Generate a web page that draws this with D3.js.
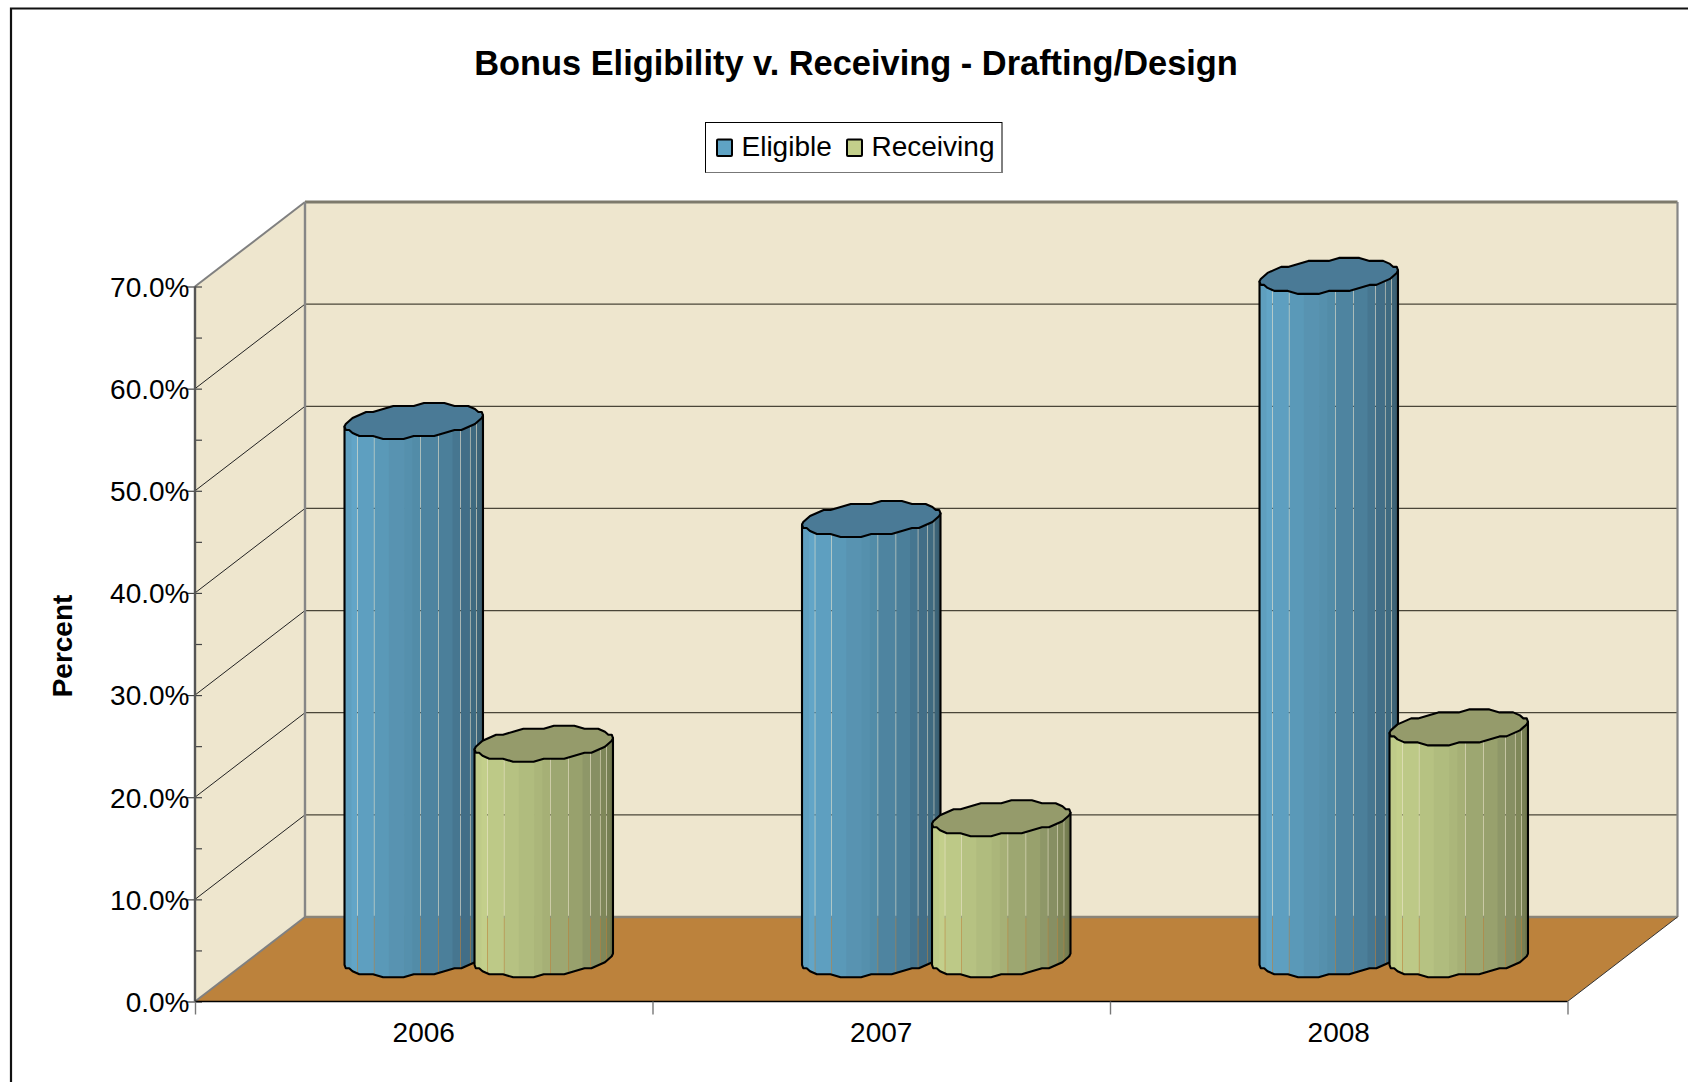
<!DOCTYPE html>
<html>
<head>
<meta charset="utf-8">
<script src="https://cdn.jsdelivr.net/npm/d3@7/dist/d3.min.js"></script>
<style>
  html, body { margin: 0; padding: 0; background: #fff; }
  svg { display: block; }
  text { font-family: "Liberation Sans", Arial, sans-serif; fill: #000; }
  .domain { display: none; }
</style>
</head>
<body>
<svg id="chart" width="1688" height="1082"></svg>
<script>
// Chart content
const chartTitle = "Bonus Eligibility v. Receiving - Drafting/Design";
const yAxisTitle = "Percent";
const years = ["2006", "2007", "2008"];
const seriesNames = ["Eligible", "Receiving"];
const eligible = [52.7, 43.1, 66.9];
const receiving = [21.1, 13.8, 22.7];
const yMajorTicks = [0, 10, 20, 30, 40, 50, 60, 70];
const yMinorTicks = [5, 15, 25, 35, 45, 55, 65];

// Shading of the cylinder sides, left to right
const blueBands = ["#5f9fbf","#62a5c7","#5e9fc0","#5a99b8","#5893b1","#5590ad","#528ca8","#4e84a0","#4b7f9a","#467690","#426e87","#3f6a80","#3c6377","#395c6e"];
const greenBands = ["#bfcb89","#c3cf8b","#bdc987","#b6c282","#b0bc7e","#abb67a","#a6b076","#9da771","#98a16d","#8e9768","#878f63","#7f8759","#777f53","#6f764d"];
const bandStops = [0, .05, .096, .216, .32, .43, .49, .55, .68, .78, .84, .91, .955, .98, 1];
const seamStops = [.096, .216, .55, .68, .84, .91, .955];
const blueLid = "#4a7a96";
const greenLid = "#959b6b";

const svg = d3.select("#chart");

// Oblique projection of the plot box
const depthX = 110, depthY = -84.5;
const x0 = d3.scaleBand().domain(years).range([195, 1567.5]);
const x1 = d3.scaleBand().domain(seriesNames).range([x0.bandwidth() / 2 - 130, x0.bandwidth() / 2 + 130]);
const y = d3.scaleLinear().domain([0, 70]).range([1001.5, 286.5]);
const project = (px, v, depth) => [px + depthX * depth, y(v) + depthY * depth];
const [xMin, xMax] = x0.range();
const poly = pts => "M" + pts.map(p => p.join(",")).join("L") + "Z";

// Outer frame
svg.append("path").attr("d", "M11,1082V8.5H1688").attr("fill", "none").attr("stroke", "#111").attr("stroke-width", 2.2);

// Title
svg.append("text").attr("x", 856).attr("y", 75).attr("text-anchor", "middle")
  .attr("font-size", 34.4).attr("font-weight", "bold").text(chartTitle);

// Legend
const legend = svg.append("g");
legend.append("rect").attr("x", 705.5).attr("y", 122.5).attr("width", 296.5).attr("height", 50)
  .attr("fill", "#fff").attr("stroke", "#000").attr("stroke-width", 1);
legend.append("line").attr("x1", 705.5).attr("x2", 1002).attr("y1", 172.5).attr("y2", 172.5).attr("stroke", "#777").attr("stroke-width", 1);
const legendX = d3.scaleOrdinal().domain(seriesNames).range([717, 847]);
const legendFill = d3.scaleOrdinal().domain(seriesNames).range(["#5fa3c4", "#c3cf8b"]);
seriesNames.forEach(name => {
  legend.append("rect").attr("x", legendX(name)).attr("y", 139.5).attr("width", 15).attr("height", 16.5)
    .attr("fill", legendFill(name)).attr("stroke", "#000").attr("stroke-width", 2).attr("rx", 1);
  legend.append("text").attr("x", legendX(name) + 24.5).attr("y", 156).attr("font-size", 28).text(name);
});

// Walls and floor
const back = (px, v) => project(px, v, 1);
const front = (px, v) => project(px, v, 0);
const wall = "#eee6ce";
svg.append("path").attr("d", poly([front(xMin, 0), back(xMin, 0), back(xMin, 70), front(xMin, 70)])).attr("fill", wall);
svg.append("path").attr("d", poly([back(xMin, 0), back(xMax, 0), back(xMax, 70), back(xMin, 70)])).attr("fill", wall);
svg.append("path").attr("d", poly([front(xMin, 0), front(xMax, 0), back(xMax, 0), back(xMin, 0)])).attr("fill", "#bc823c");

// Gridlines across both walls
yMajorTicks.filter(v => v > 0 && v < 70).forEach(v => {
  svg.append("path").attr("d", "M" + front(xMin, v) + "L" + back(xMin, v)).attr("fill", "none").attr("stroke", "#222").attr("stroke-width", 1);
  svg.append("path").attr("d", "M" + back(xMin, v) + "L" + back(xMax, v)).attr("fill", "none").attr("stroke", "#4a4638").attr("stroke-width", 1.3);
});

// Wall edges
const edge = (a, b, color, w) => svg.append("path").attr("d", "M" + a + "L" + b)
  .attr("fill", "none").attr("stroke", color).attr("stroke-width", w);
edge(back(xMin, 70), back(xMax, 70), "#7d7a6c", 3);
edge(front(xMin, 70), back(xMin, 70), "#808080", 2);
edge(back(xMin, 0), back(xMin, 70), "#868686", 2.4);
edge(back(xMax, 0), back(xMax, 70), "#868686", 2.2);
edge(back(xMin, 0), back(xMax, 0), "#8a8478", 2.4);
edge(front(xMin, 0), back(xMin, 0), "#808080", 2);
edge(front(xMax, 0), back(xMax, 0), "#333", 1);

// Value axis
const yAxisG = svg.append("g").attr("transform", `translate(${xMin},0)`)
  .call(d3.axisLeft(y).tickValues(yMajorTicks).tickSize(8).tickPadding(0).tickFormat(d => d.toFixed(1) + "%"));
yAxisG.selectAll("text").attr("font-size", 28).attr("x", -5.5).attr("dy", "0.35em").style("font-family", '"Liberation Sans", Arial, sans-serif');
yAxisG.selectAll("line").attr("stroke", "#444").attr("stroke-width", 1.2);
svg.append("g").attr("transform", `translate(${xMin},0)`)
  .call(d3.axisRight(y).tickValues(yMajorTicks.concat(yMinorTicks)).tickSize(7).tickFormat(""))
  .selectAll("line").attr("stroke", "#444").attr("stroke-width", 1.2);
edge(front(xMin, 0), front(xMin, 70), "#555", 2.4);

// Category axis
edge(front(xMin, 0), front(xMax, 0), "#000", 1.6);
const boundaries = d3.range(years.length + 1).map(i => xMin + i * x0.step());
const boundaryScale = d3.scaleLinear().domain([xMin, xMax]).range([xMin, xMax]);
svg.append("g").attr("transform", `translate(0,${y(0)})`)
  .call(d3.axisBottom(boundaryScale).tickValues(boundaries).tickSize(13).tickFormat(""))
  .selectAll("line").attr("stroke", "#777").attr("stroke-width", 1.4);
const xAxisG = svg.append("g").attr("transform", `translate(0,${y(0)})`)
  .call(d3.axisBottom(x0).tickSize(0).tickPadding(0));
xAxisG.selectAll("text").attr("font-size", 28).attr("y", 21).attr("dy", "0.71em").style("font-family", '"Liberation Sans", Arial, sans-serif');

// Axis title
svg.append("text").attr("transform", "translate(72,646) rotate(-90)").attr("text-anchor", "middle")
  .attr("font-size", 28).attr("font-weight", "bold").text(yAxisTitle);

// Cylinders: a base circle sheared by the oblique projection, coordinates snapped
// to a coarse grid so the rims read as short straight runs
const radiusX = 65.5, depthFrac = 0.204;
const bx = depthX * depthFrac, by = depthY * depthFrac;
const reach = Math.hypot(radiusX, bx);
const t0 = Math.atan2(bx, radiusX);
const gridX = 3.4, gridY = 3;
const snap = (v, g) => Math.round(v / g) * g;
const rim = d3.range(40).map(i => {
  const t = t0 - i / 40 * 2 * Math.PI;
  const ex = radiusX * Math.cos(t) + bx * Math.sin(t);
  const ey = by * Math.sin(t);
  return [Math.abs(Math.abs(ex) - reach) < 0.01 ? ex : snap(ex, gridX), Math.abs(i % 20) === 0 ? ey : snap(ey, gridY)];
});
const frontRim = rim.slice(0, 21);
let clipId = 0;

function cylinder(cx, value, bands, lid) {
  const [tx, ty] = project(cx, value, 0.5);
  const [bxp, byp] = project(cx, 0, 0.5);
  const g = svg.append("g");
  const id = "side" + (clipId++);
  const silhouette = [[tx + rim[0][0], ty + rim[0][1]]]
    .concat(frontRim.map(p => [bxp + p[0], byp + p[1]]))
    .concat([[tx + rim[20][0], ty + rim[20][1]]]);
  g.append("clipPath").attr("id", id).append("path").attr("d", poly(silhouette));
  const side = g.append("g").attr("clip-path", `url(#${id})`);
  bands.forEach((c, i) => {
    const a = tx - reach + bandStops[i] * 2 * reach;
    const b = tx - reach + bandStops[i + 1] * 2 * reach;
    // Facets overlap except at the seams, where a hairline gap is left open
    const seam = seamStops.includes(bandStops[i + 1]);
    side.append("rect").attr("x", a).attr("y", ty - 40)
      .attr("width", b - a + (seam ? -0.55 : 0.7)).attr("height", byp - ty + 80).attr("fill", c);
  });
  g.append("path").attr("d", poly(silhouette)).attr("fill", "none").attr("stroke", "#000")
    .attr("stroke-width", 2.1).attr("stroke-linejoin", "round");
  g.append("path").attr("d", poly(rim.map(p => [tx + p[0], ty + p[1]])))
    .attr("fill", lid).attr("stroke", "#000").attr("stroke-width", 2.1).attr("stroke-linejoin", "round");
}

years.forEach((yr, i) => {
  cylinder(x0(yr) + x1("Eligible") + x1.bandwidth() / 2, eligible[i], blueBands, blueLid);
  cylinder(x0(yr) + x1("Receiving") + x1.bandwidth() / 2, receiving[i], greenBands, greenLid);
});
</script>
</body>
</html>
